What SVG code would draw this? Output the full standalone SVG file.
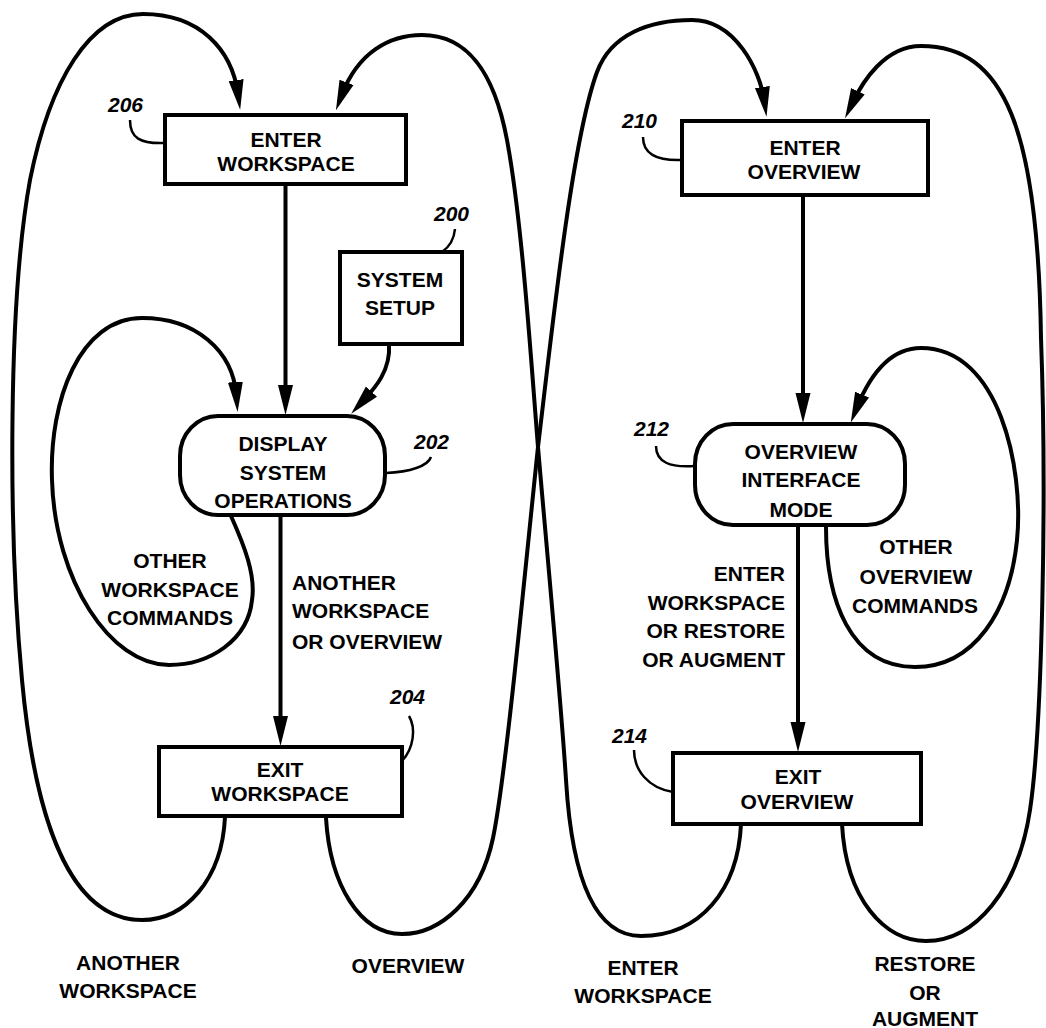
<svg xmlns="http://www.w3.org/2000/svg" width="1046" height="1028" viewBox="0 0 1046 1028">
<style>
.box{fill:#fff;stroke:#000;stroke-width:4}
.ln{fill:none;stroke:#000;stroke-width:4}
.ld{fill:none;stroke:#000;stroke-width:2.5}
.t{font-family:"Liberation Sans",Arial,sans-serif;font-weight:bold;font-size:21px;fill:#000;text-anchor:middle}
.l{text-anchor:start}
.r{text-anchor:end}
.n{font-family:"Liberation Sans",Arial,sans-serif;font-weight:bold;font-style:italic;font-size:21px;fill:#000}
</style>
<defs>
<marker id="ah" markerUnits="userSpaceOnUse" markerWidth="34" markerHeight="20" viewBox="0 -10 34 20" refX="14" refY="0" orient="auto">
<path d="M0,-7.5 L30,0 L0,7.5 z" fill="#000"/>
</marker>
</defs>
<rect width="1046" height="1028" fill="#fff"/>
<g id="connectors">
<path class="ln" marker-end="url(#ah)" d="M225,817 C222,880 185,920 142,920 C70,920 35,820 22,680 C8,530 8,300 30,180 C50,80 90,14 143,14 C200,14 232,50 238,94"/>
<path class="ln" marker-end="url(#ah)" d="M326,818 C330,885 360,934 402,934 C440,934 480,900 493,838 C506,776 526,560 538,447 C552,330 572,140 597,72 C611,34 650,20 692,20 C735,20 760,70 764.3,100.9"/>
<path class="ln" marker-end="url(#ah)" d="M741,824 C738,890 700,936 641,936 C595,936 572,880 566,780 C561,700 545,530 538,447 C531,360 522,220 507,140 C495,76 470,35 422,35 C390,35 358,52 341.6,95.4"/>
<path class="ln" marker-end="url(#ah)" d="M842,824 C846,900 885,941 926,941 C975,941 1018,890 1030,810 C1042,730 1047,500 1041,338 C1038,130 1005,46 921,46 C885,46 862.6,81.4 851.9,103.9"/>
<path class="ln" marker-end="url(#ah)" d="M231,516 C244,545 256,575 252,600 C248,640 210,665 169,665 C110,665 55,580 52,480 C49,400 80,318 142,318 C195,318 233,350 236.4,396"/>
<path class="ln" marker-end="url(#ah)" d="M826,527 C826,600 850,667 915,667 C975,667 1010,610 1017,540 C1024,470 1000,348 921,348 C885,348 866,385 856.8,407.6"/>
<path class="ln" marker-end="url(#ah)" d="M389,344 C391,372 373,390 362,402"/>
<path class="ln" marker-end="url(#ah)" d="M285.5,185 L285.5,399"/>
<path class="ln" marker-end="url(#ah)" d="M280.5,516 L280.5,730"/>
<path class="ln" marker-end="url(#ah)" d="M803,195 L803,407"/>
<path class="ln" marker-end="url(#ah)" d="M798,526 L798,736"/>
<path class="ld" d="M130,120 C130,138 140,144 165,143"/>
<path class="ld" d="M455,229 C454,240 449,247 442,252"/>
<path class="ld" d="M431,457 C428,466 410,472 386,473"/>
<path class="ld" d="M409,716 C416,728 414,748 402,761"/>
<path class="ld" d="M643,137 C643,153 655,161 682,160"/>
<path class="ld" d="M656,446 C656,462 670,468 695,466"/>
<path class="ld" d="M634,750 C634,770 648,788 673,792"/>
</g>
<g id="enter-workspace">
<rect class="box" x="165" y="115" width="241" height="69"/>
<text class="t" x="286" y="147">ENTER</text>
<text class="t" x="286" y="171">WORKSPACE</text>
<text class="n" x="108" y="112">206</text>
</g>
<g id="system-setup">
<rect class="box" x="340" y="252" width="122" height="92"/>
<text class="t" x="400" y="287">SYSTEM</text>
<text class="t" x="400" y="315">SETUP</text>
<text class="n" x="434" y="221">200</text>
</g>
<g id="display-system-operations">
<rect class="box" x="180" y="416" width="205" height="99" rx="38" ry="40"/>
<text class="t" x="283" y="451">DISPLAY</text>
<text class="t" x="283" y="480">SYSTEM</text>
<text class="t" x="283" y="508">OPERATIONS</text>
<text class="n" x="414" y="449">202</text>
</g>
<g id="exit-workspace">
<rect class="box" x="159" y="747" width="243" height="69"/>
<text class="t" x="280" y="777">EXIT</text>
<text class="t" x="280" y="801">WORKSPACE</text>
<text class="n" x="390" y="704">204</text>
</g>
<g id="enter-overview">
<rect class="box" x="682" y="121" width="246" height="74"/>
<text class="t" x="805" y="155">ENTER</text>
<text class="t" x="804" y="179">OVERVIEW</text>
<text class="n" x="622" y="128">210</text>
</g>
<g id="overview-interface-mode">
<rect class="box" x="695" y="424" width="210" height="101" rx="38" ry="40"/>
<text class="t" x="801" y="459">OVERVIEW</text>
<text class="t" x="801" y="487">INTERFACE</text>
<text class="t" x="801" y="517">MODE</text>
<text class="n" x="634" y="436">212</text>
</g>
<g id="exit-overview">
<rect class="box" x="673" y="753" width="248" height="71"/>
<text class="t" x="798" y="784">EXIT</text>
<text class="t" x="797" y="809">OVERVIEW</text>
<text class="n" x="612" y="743">214</text>
</g>
<g id="labels">
<text class="t" x="170" y="568">OTHER</text>
<text class="t" x="170" y="597">WORKSPACE</text>
<text class="t" x="170" y="625">COMMANDS</text>
<text class="t l" x="292" y="590">ANOTHER</text>
<text class="t l" x="292" y="618">WORKSPACE</text>
<text class="t l" x="292" y="649">OR OVERVIEW</text>
<text class="t" x="128" y="970">ANOTHER</text>
<text class="t" x="128" y="998">WORKSPACE</text>
<text class="t" x="408" y="973">OVERVIEW</text>
<text class="t r" x="785" y="581">ENTER</text>
<text class="t r" x="785" y="610">WORKSPACE</text>
<text class="t r" x="785" y="638">OR RESTORE</text>
<text class="t r" x="785" y="667">OR AUGMENT</text>
<text class="t" x="916" y="554">OTHER</text>
<text class="t" x="916" y="584">OVERVIEW</text>
<text class="t" x="915" y="613">COMMANDS</text>
<text class="t" x="643" y="975">ENTER</text>
<text class="t" x="643" y="1003">WORKSPACE</text>
<text class="t" x="925" y="971">RESTORE</text>
<text class="t" x="925" y="1000">OR</text>
<text class="t" x="925" y="1026">AUGMENT</text>
</g>
</svg>
